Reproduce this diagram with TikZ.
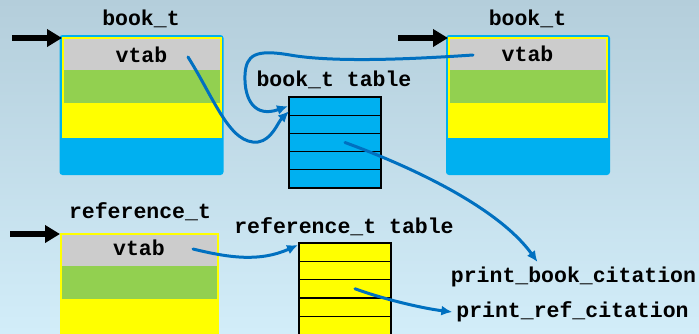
\documentclass[tikz,border=0pt]{standalone}
\usepackage{fontspec}
\newfontfamily\codefont{Liberation Mono}
\usetikzlibrary{arrows.meta,calc}
\definecolor{bgtop}{RGB}{180,206,219}
\definecolor{bgbot}{RGB}{210,237,249}
\definecolor{objblue}{RGB}{0,176,240}
\definecolor{slotgray}{RGB}{204,204,204}
\definecolor{slotgreen}{RGB}{146,208,80}
\definecolor{slotyellow}{RGB}{255,255,0}
\definecolor{linkblue}{RGB}{0,112,192}
\begin{document}
\begin{tikzpicture}[x=1pt,y=-1pt,
  lbl/.style={font=\codefont\bfseries\fontsize{21.5}{24}\selectfont,
    inner sep=0pt, outer sep=0pt, anchor=base, text height=14pt, text depth=4pt},
  region/.style={inner sep=0pt, outer sep=0pt, draw=none},
  objframe/.style={region, fill=objblue, rounded corners=3pt,
    minimum width=164pt, minimum height=140pt},
  yelframe/.style={region, fill=slotyellow, minimum width=160pt, minimum height=101pt},
  vslot/.style={region, fill=slotgray, minimum width=156pt, minimum height=31pt},
  gslot/.style={region, fill=slotgreen, minimum width=156pt, minimum height=33pt},
  brow/.style={inner sep=0pt, outer sep=0pt, draw=black, line width=1.2pt,
    fill=objblue, minimum width=92pt, minimum height=18.2pt},
  yrow/.style={brow, fill=slotyellow, minimum height=18.3pt},
  ptr/.style={line width=5.5pt, -{Triangle[length=15pt,width=17pt]}},
  link/.style={linkblue, line width=3pt, line cap=round,
    -{Latex[length=11pt,width=10pt]}}]

\path[use as bounding box] (0,0) rectangle (699,333);
\begin{scope}
\clip (0,0) rectangle (699,333);
\fill[top color=bgtop, bottom color=bgbot] (0,0) rectangle (699,333);

% left book_t object
\node[objframe] (lobj) at (141.5,105) {};
\node[yelframe] (lyel) at (142,87.5) {};
\node[vslot] (lgray) at (142,54.5) {};
\node[gslot] (lgreen) at (142,86.5) {};
\node[lbl] (lname) at (141,25) {book\_t};
\node[lbl] (lvtab) at (141.5,62) {vtab};

% right book_t object
\node[objframe] (robj) at (528,105) {};
\node[yelframe] (ryel) at (528,87.5) {};
\node[vslot] (rgray) at (528,54.5) {};
\node[gslot] (rgreen) at (528,86.5) {};
\node[lbl] (rname) at (527.5,25) {book\_t};
\node[lbl] (rvtab) at (527.5,61) {vtab};

% reference_t object
\node[yelframe, minimum width=159pt, minimum height=114pt] (fyel) at (139.5,290) {};
\node[vslot, minimum width=155pt] (fgray) at (139.5,250.5) {};
\node[gslot, minimum width=155pt] (fgreen) at (139.5,282.5) {};
\node[lbl] (fname) at (140,218) {reference\_t};
\node[lbl] (fvtab) at (139,255) {vtab};

% book_t table
\node[lbl] (btname) at (334,86) {book\_t table};
\foreach \i/\y in {1/106.1,2/124.3,3/142.5,4/160.7,5/178.9}
  \node[brow] (bt\i) at (335,\y) {};

% reference_t table
\node[lbl] (rtname) at (344,233) {reference\_t table};
\foreach \i/\y in {1/252.15,2/270.45,3/288.75,4/307.05,5/325.35}
  \node[yrow] (rt\i) at (345,\y) {};

% functions
\node[lbl] (pbook) at (573.5,282) {print\_book\_citation};
\node[lbl] (pref) at (572.5,317) {print\_ref\_citation};

% object pointers
\coordinate (lp) at (12,38);
\coordinate (rp) at (398,38);
\coordinate (fp) at (10,234);
\draw[ptr] (lp) -- (lp -| lyel.west);
\draw[ptr] (rp) -- (rp -| ryel.west);
\draw[ptr] (fp) -- (fp -| fyel.west);

% vtab links
\coordinate (lsrc) at (188,57);
\coordinate (rsrc) at (473,55);
\coordinate (fsrc) at (193,249);
\draw[link] (lsrc) .. controls (215,100) and (230,145) .. (258,142)
  .. controls (272,140) and (278,122) .. ([yshift=4pt]bt1.south west);
\draw[link] (rsrc) .. controls (400,60) and (330,62) .. (290,55)
  .. controls (255,49) and (246,55) .. (245,75)
  .. controls (244,100) and (255,118) .. ([xshift=-1pt]bt1.west);
\draw[link] (fsrc) .. controls (230,258) and (260,262) .. ([xshift=-1pt,yshift=-2pt]rt1.north west);

% method links
\draw[link] ([xshift=10pt]bt3.center) .. controls (420,170) and (500,210)
  .. ([xshift=-36pt,yshift=6pt]pbook.north);
\draw[link] ([xshift=10pt]rt3.center) .. controls (380,298) and (420,308)
  .. ([xshift=-4pt]pref.west);
\end{scope}
\end{tikzpicture}
\end{document}
